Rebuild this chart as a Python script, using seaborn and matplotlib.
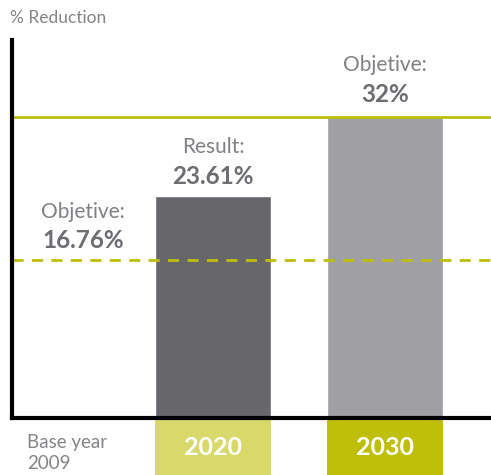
import matplotlib
matplotlib.use("Agg")
import matplotlib.pyplot as plt
import matplotlib.transforms as mtransforms
from matplotlib.patches import Rectangle
import seaborn as sns
import pandas as pd

categories = ["Base year\n2009", "2020", "2030"]
values = [0.0, 23.61, 32.0]
objective_2020 = 16.76
objective_2030 = 32.0
bar_colors = ["#67666b", "#67666b", "#a09fa4"]
box_colors = [None, "#d8d96a", "#bfbf0a"]

sns.set_theme(style="white")
plt.rcParams["font.family"] = ["Lato", "DejaVu Sans"]

df = pd.DataFrame({"cat": categories, "val": values})

fig = plt.figure(figsize=(4.91, 4.75), dpi=100)
ax = fig.add_axes([12/491, 57/475, 479/491, 378/475])
sns.barplot(data=df, x="cat", y="val", hue="cat", palette=bar_colors,
            width=0.674, legend=False, ax=ax, saturation=1)
ax.set_ylim(0, 40.2)
ax.set_xlim(-0.169, 2.616)
ax.set_xlabel("")
ax.set_ylabel("")
ax.set_xticks([])
ax.set_yticks([])
for s in ["top", "right"]:
    ax.spines[s].set_visible(False)
for s in ["left", "bottom"]:
    ax.spines[s].set_visible(True)
    ax.spines[s].set_color("black")
    ax.spines[s].set_linewidth(3)

line_color = "#bfbf0a"
ax.axhline(objective_2030, color=line_color, lw=2)
ax.axhline(objective_2020, color=line_color, lw=2, ls=(0, (4, 3)))

gray = "#6d6d72"
light = "#808085"
ax.text(0.245, 21.9, "Objetive:", ha="center", va="center",
        fontsize=15, color=light)
ax.text(0.245, 18.9, f"{objective_2020:.2f}%", ha="center", va="center",
        fontsize=17.5, color=gray, fontweight="bold")
ax.text(1, 28.8, "Result:", ha="center", va="center",
        fontsize=15, color=light)
ax.text(1, 25.7, f"{values[1]:.2f}%", ha="center", va="center",
        fontsize=17.5, color=gray, fontweight="bold")
ax.text(2, 37.55, "Objetive:", ha="center", va="center",
        fontsize=15, color=light)
ax.text(2, 34.4, f"{objective_2030:.0f}%", ha="center", va="center",
        fontsize=17.5, color=gray, fontweight="bold")

fig.text(10/491, 1 - 18/475, "% Reduction", ha="left", va="center",
         fontsize=12.5, color="#858589")

trans = mtransforms.blended_transform_factory(ax.transData, ax.transAxes)
box_h = 55 / 378
for i, (cat, col) in enumerate(zip(categories, box_colors)):
    if col is None:
        ax.text(i - 0.08, -0.093, cat, transform=trans, ha="left", va="center",
                fontsize=13.5, color="#858589", linespacing=1.3,
                clip_on=False)
        continue
    ax.add_patch(Rectangle((i - 0.337, -0.006 - box_h), 0.674, box_h,
                           transform=trans, facecolor=col, edgecolor="none",
                           clip_on=False))
    ax.text(i, -0.006 - box_h / 2, cat, transform=trans, ha="center", va="center",
            fontsize=18, color="white", fontweight="bold", clip_on=False)

fig.savefig("out.png", dpi=100)
